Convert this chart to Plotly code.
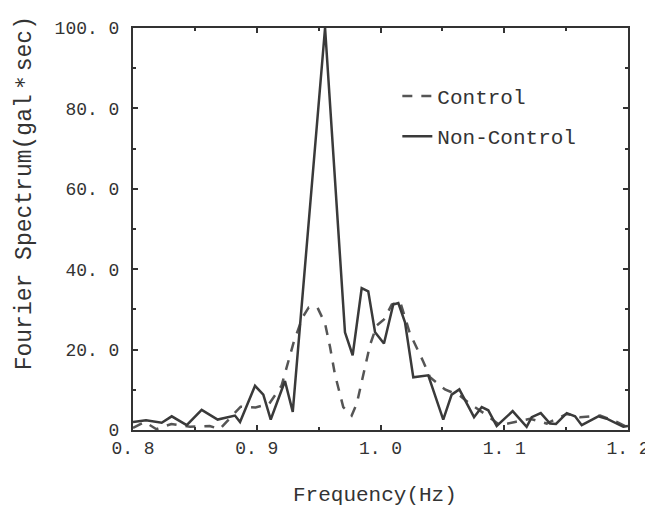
import plotly.graph_objects as go

# Non-Control spectrum (solid line)
freq_nc = [0.800, 0.8105, 0.8232, 0.8313, 0.8434, 0.8555, 0.8684, 0.8824, 0.8865,
           0.8986, 0.9053, 0.9113, 0.9228, 0.9291, 0.9552, 0.9713, 0.9775, 0.9848,
           0.9901, 0.9956, 1.0028, 1.0103, 1.0144, 1.0198, 1.0265, 1.0386, 1.0507,
           1.0575, 1.0637, 1.0756, 1.0818, 1.0871, 1.0939, 1.1068, 1.1181, 1.1222,
           1.1295, 1.1370, 1.1418, 1.1505, 1.1572, 1.1626, 1.1760, 1.1828, 1.1962, 1.2000]
amp_nc = [2.0, 2.4, 1.8, 3.4, 1.2, 5.0, 2.6, 3.6, 2.0,
          11.0, 8.8, 2.6, 12.2, 4.5, 100.0, 24.3, 18.6, 35.3,
          34.5, 24.3, 21.5, 31.2, 31.6, 26.8, 13.1, 13.6, 2.6,
          8.8, 10.1, 3.2, 5.7, 4.9, 1.0, 4.7, 0.8, 3.2,
          4.2, 1.6, 1.5, 4.2, 3.4, 1.2, 3.4, 2.8, 0.8, 1.0]

# Control spectrum (dashed line)
freq_c = [0.800, 0.8095, 0.8190, 0.8310, 0.8460, 0.8620, 0.8700, 0.8800, 0.8870,
          0.8990, 0.9100, 0.9200, 0.9300, 0.9370, 0.9420, 0.9490, 0.9552, 0.9592,
          0.9632, 0.9699, 0.9767, 0.9808, 0.9861, 0.9915, 0.9969, 1.0028, 1.0091,
          1.0158, 1.0238, 1.0305, 1.0346, 1.0400, 1.0521, 1.0642, 1.0723, 1.0844,
          1.0966, 1.1087, 1.1208, 1.1343, 1.1505, 1.1612, 1.1774, 1.1909, 1.1990]
amp_c = [0.5, 2.0, 0.2, 1.5, 0.8, 1.0, 0.2, 3.5, 5.8,
         5.6, 6.5, 11.0, 22.0, 28.0, 30.5, 30.5, 26.5, 20.7,
         13.8, 5.7, 3.6, 6.5, 13.8, 21.1, 26.0, 27.5, 31.2,
         32.0, 24.0, 19.9, 17.0, 13.1, 10.1, 8.5, 6.5, 4.0,
         1.2, 2.0, 2.8, 1.6, 4.0, 3.2, 3.6, 2.0, 0.8]

x_ticks = [0.8, 0.9, 1.0, 1.1, 1.2]
x_labels = ["0. 8", "0. 9", "1. 0", "1. 1", "1. 2"]
y_ticks = [0, 20, 40, 60, 80, 100]
y_labels = ["0", "20. 0", "40. 0", "60. 0", "80. 0", "100. 0"]

FONT = "Liberation Mono, DejaVu Sans Mono, monospace"
INK = "#333333"


def format_axis(tickvals, ticktext, rng, minor_dtick):
    return dict(
        range=rng,
        tickvals=tickvals,
        ticktext=ticktext,
        ticks="inside",
        ticklen=5,
        tickwidth=1.5,
        tickcolor=INK,
        minor=dict(dtick=minor_dtick, ticks="inside", ticklen=3, tickcolor=INK, tickwidth=1.5),
        showline=True,
        linecolor=INK,
        linewidth=2,
        mirror="ticks",
        showgrid=False,
        zeroline=False,
        tickfont=dict(family=FONT, size=18, color=INK),
    )


def format_title(text, x, y, size, angle=0):
    return dict(
        text=text, x=x, y=y, xref="paper", yref="paper",
        xanchor="center", yanchor="middle", textangle=angle,
        showarrow=False,
        font=dict(family=FONT, size=size, color=INK),
    )


fig = go.Figure()
fig.add_trace(go.Scatter(
    x=freq_c, y=amp_c, mode="lines", name="Control",
    legendgroup="c",
    line=dict(color="#555555", width=2.5, dash="10px,9px"),
))
fig.add_trace(go.Scatter(
    x=freq_nc, y=amp_nc, mode="lines", name="Non-Control",
    legendgroup="nc",
    line=dict(color="#3a3a3a", width=2.5),
))

# page body adds 8px margin, so margins are shifted to compensate
fig.update_layout(
    width=653, height=514,
    plot_bgcolor="white",
    paper_bgcolor="white",
    margin=dict(l=125, r=33, t=11, b=92),
    xaxis=format_axis(x_ticks, x_labels, [0.8, 1.2], 0.05),
    yaxis=format_axis(y_ticks, y_labels, [0, 100], 10),
    legend=dict(
        x=0.534, y=0.881, xanchor="left", yanchor="top",
        font=dict(family=FONT, size=21, color=INK),
        bgcolor="rgba(0,0,0,0)",
        tracegroupgap=10,
    ),
    annotations=[
        format_title("Frequency(Hz)", 0.489, -0.163, 21),
        format_title("Fourier Spectrum(gal＊sec)", -0.218, 0.589, 23, -90),
    ],
)
fig.update_yaxes(ticklabelstandoff=8)

fig.write_html("out.html")
